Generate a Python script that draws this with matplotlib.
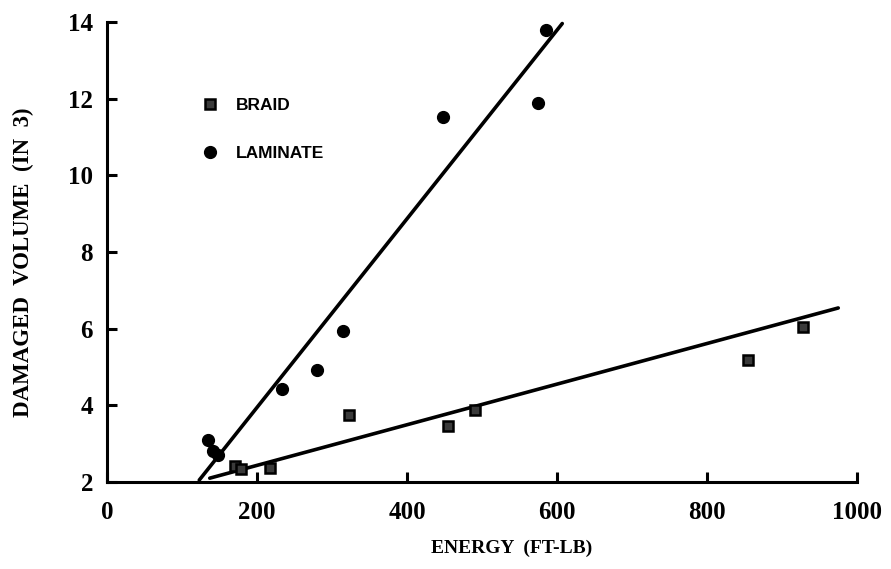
import matplotlib
matplotlib.use("Agg")
import matplotlib.pyplot as plt
import numpy as np

# Impact energy (ft-lb) vs damaged volume (in^3)
braid_energy = [170, 178, 217, 322, 454, 491, 855, 928]
braid_volume = [2.42, 2.35, 2.37, 3.75, 3.46, 3.88, 5.18, 6.05]

laminate_energy = [135, 141, 148, 233, 280, 315, 448, 575, 585]
laminate_volume = [3.1, 2.8, 2.7, 4.42, 4.92, 5.94, 11.53, 11.88, 13.78]

# Straight-line fits drawn over the data
braid_fit_x = [137, 975]
braid_fit_y = [2.1, 6.54]
laminate_fit_x = [123, 607]
laminate_fit_y = [2.05, 13.96]

x_ticks = [0, 200, 400, 600, 800, 1000]
y_ticks = [2, 4, 6, 8, 10, 12, 14]

serif = ["Liberation Serif", "DejaVu Serif"]
sans = ["Liberation Sans Narrow", "Liberation Sans", "DejaVu Sans"]

fig = plt.figure(figsize=(8.91, 5.69), dpi=100)
ax = fig.add_axes([107 / 891, 1 - 482 / 569, 750 / 891, 460 / 569])

ax.plot(laminate_fit_x, laminate_fit_y, color="black", lw=2.6, clip_on=False,
        solid_capstyle="round")
ax.plot(braid_fit_x, braid_fit_y, color="black", lw=2.6, clip_on=False,
        solid_capstyle="round")

ax.plot(braid_energy, braid_volume, ls="none", marker="s", ms=7.5,
        mfc="#3a3a3a", mec="black", mew=1.8, label="BRAID", clip_on=False)
ax.plot(laminate_energy, laminate_volume, ls="none", marker="o", ms=8.5,
        mfc="black", mec="black", label="LAMINATE", clip_on=False)

ax.set_xlim(0, 1000)
ax.set_ylim(2, 14)
ax.set_xticks(x_ticks)
ax.set_yticks(y_ticks)

for side in ("top", "right"):
    ax.spines[side].set_visible(False)
for side in ("left", "bottom"):
    ax.spines[side].set_linewidth(2.2)

ax.tick_params(axis="both", direction="in", width=2.2, length=7, color="black")
ax.tick_params(axis="x", pad=14)
ax.tick_params(axis="y", pad=10)
for lbl in ax.get_xticklabels() + ax.get_yticklabels():
    lbl.set_fontfamily(serif)
    lbl.set_fontweight("bold")
    lbl.set_fontsize(18)

ax.set_xlabel("ENERGY  (FT-LB)", fontfamily=serif, fontweight="bold",
              fontsize=14)
ax.set_ylabel("DAMAGED  VOLUME  (IN  3)", fontfamily=serif, fontweight="bold",
              fontsize=16.5)
ax.xaxis.set_label_coords(0.539, -0.125)
ax.yaxis.set_label_coords(-0.097, 0.478)

leg = ax.legend(loc="upper left", bbox_to_anchor=(0.105, 0.87), frameon=False,
                handlelength=1.0, handletextpad=1.0, labelspacing=1.9,
                prop={"family": sans, "weight": "bold", "size": 12.5})

fig.savefig("out.png", dpi=100)
